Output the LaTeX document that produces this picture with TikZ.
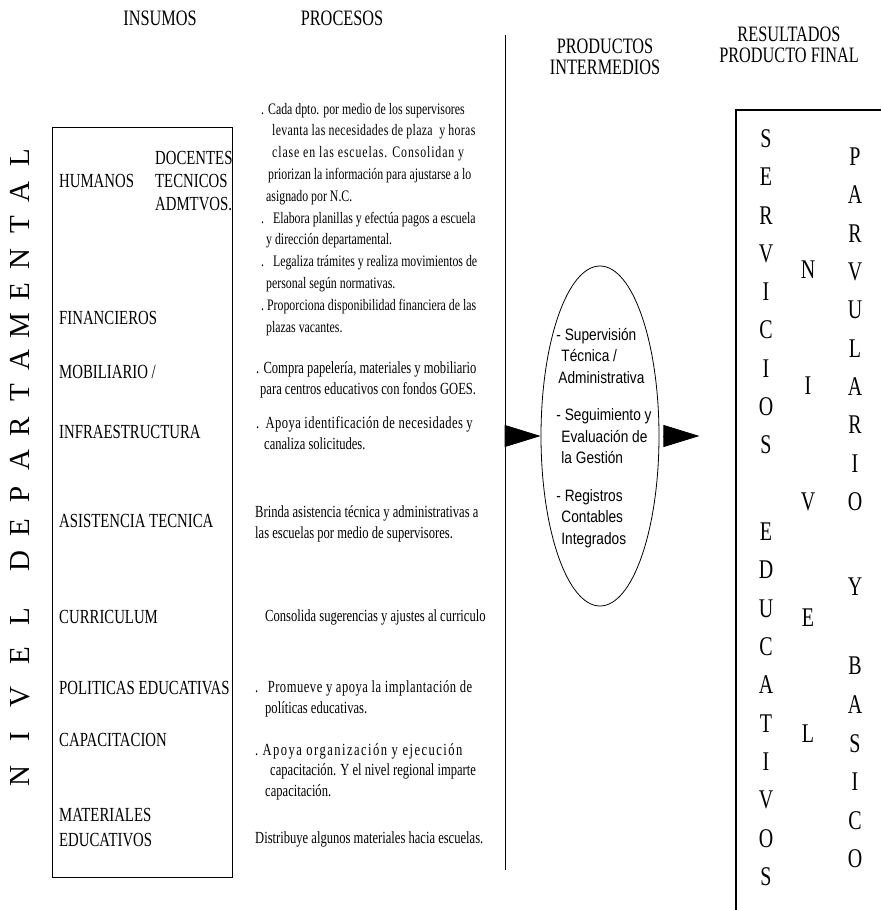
\documentclass[tikz,border=0pt]{standalone}
\usepackage{fontspec}
\usetikzlibrary{arrows.meta,shapes.geometric}
\newfontfamily\narrowserif[FakeStretch=0.74]{Liberation Serif}
\newfontfamily\plainserif{Liberation Serif}
\newfontfamily\narrowsans[FakeStretch=0.83]{Liberation Sans}
\newcommand{\spreadline}[2]{{\addfontfeature{LetterSpace=#1}#2}}

\tikzset{
  colhead/.style={font=\narrowserif\fontsize{22}{21}\selectfont, align=center, inner sep=0pt},
  inlabel/.style={font=\narrowserif\fontsize{20}{23}\selectfont, anchor=base west, inner sep=0pt},
  proctext/.style={font=\narrowserif\fontsize{17}{20.5}\selectfont, anchor=base west, align=left, inner sep=0pt},
  sideletter/.style={font=\plainserif\fontsize{29}{29}\selectfont, rotate=90, inner sep=0pt},
  resletter/.style={font=\narrowserif\fontsize{27}{27}\selectfont, inner sep=0pt},
  prodtext/.style={font=\narrowsans\fontsize{16.5}{21.5}\selectfont, align=left, inner sep=0pt},
  frame/.style={draw=black, line width=1.1pt},
  flowtip/.style={-{Triangle[length=36pt,width=22pt]}, line width=0.8pt},
}

\begin{document}
\begin{tikzpicture}[x=1pt,y=-1pt]
\useasboundingbox (0,0) rectangle (881,910);

% column headings
\node[colhead] (hins)  at (160,18) {INSUMOS};
\node[colhead] (hproc) at (342,18) {PROCESOS};
\node[colhead] (hprod) at (605,57) {PRODUCTOS\\INTERMEDIOS};
\node[colhead] (hres)  at (789,45) {RESULTADOS\\PRODUCTO FINAL};

% side title, read from bottom to top
\foreach \ch/\yy [count=\i] in {N/776,I/737,V/697,E/656,L/617,D/561,E/528,P/494,A/460,R/427,T/393,A/360,M/326,E/292,N/259,T/225,A/192,L/158}
  \node[sideletter] (side\i) at (20,\yy) {\ch};

% inputs box
\node[frame, minimum width=180pt, minimum height=750pt, anchor=north west, inner sep=0pt] (inbox) at (52,127) {};
\node[inlabel] (lhum) at (59,187) {HUMANOS};
\node[inlabel] (ldoc) at (155,164) {DOCENTES};
\node[inlabel] (ltec) at (155,187) {TECNICOS};
\node[inlabel] (ladm) at (155,210) {ADMTVOS.};
\node[inlabel] (lfin) at (59,324) {FINANCIEROS};
\node[inlabel] (lmob) at (59,378) {MOBILIARIO /};
\node[inlabel] (linf) at (59,438) {INFRAESTRUCTURA};
\node[inlabel] (lasi) at (59,527) {ASISTENCIA TECNICA};
\node[inlabel] (lcur) at (59,623) {CURRICULUM};
\node[inlabel] (lpol) at (59,694) {POLITICAS EDUCATIVAS};
\node[inlabel] (lcap) at (59,746) {CAPACITACION};
\node[inlabel] (lmat) at (59,821) {MATERIALES};
\node[inlabel] (ledu) at (59,846) {EDUCATIVOS};

% processes (each node is anchored on the baseline of its last line)
\node[proctext, font=\narrowserif\fontsize{16}{21.8}\selectfont] (phum) at (261,332) {%
. Cada dpto. por medio de los supervisores\\
\hspace*{11pt}\spreadline{2}{levanta las necesidades de plaza\ \ y horas}\\
\hspace*{11pt}\spreadline{5.5}{clase en las escuelas. Consolidan y}\\
\hspace*{7pt}priorizan la información para ajustarse a lo\\
\hspace*{5pt}asignado por N.C.\\
.\ \ \ Elabora planillas y efectúa pagos a escuela\\
\hspace*{5pt}y dirección departamental.\\
.\ \ \ Legaliza trámites y realiza movimientos de\\
\hspace*{5pt}personal según normativas.\\
.\ Proporciona disponibilidad financiera de las\\
\hspace*{5pt}plazas vacantes.};
\node[proctext] (pmob) at (256,394) {%
. Compra papelería, materiales y mobiliario\\
\hspace*{4pt}para centros educativos con fondos GOES.};
\node[proctext] (pinf) at (256,449) {%
.\ \ \spreadline{2.5}{Apoya identificación de necesidades y}\\
\hspace*{8pt}canaliza solicitudes.};
\node[proctext] (pasi) at (255,538) {%
Brinda asistencia técnica y administrativas a\\
las escuelas por medio de supervisores.};
\node[proctext] (pcur) at (265,621) {Consolida sugerencias y ajustes al curriculo};
\node[proctext] (ppol) at (255,713) {%
.\ \ \ \spreadline{3}{Promueve y apoya la implantación de}\\
\hspace*{10pt}políticas educativas.};
\node[proctext] (pcap) at (255,796) {%
. \spreadline{8.5}{Apoya organización y ejecución}\\
\hspace*{15pt}capacitación. Y el nivel regional imparte\\
\hspace*{10pt}capacitación.};
\node[proctext] (pmat) at (255,843) {Distribuye algunos materiales hacia escuelas.};

% separator after the processes
\coordinate (vtop) at (505,35);
\coordinate (vbot) at (505,870);
\draw[line width=0.8pt] (vtop) -- (vbot);

% intermediate products
\node[draw, ellipse, line width=0.8pt, minimum width=118pt, minimum height=340pt, inner sep=0pt] (ell) at (600,436) {};
\node[prodtext] (elltext) at (604,438) {%
- Supervisión\\
\hspace*{5pt}Técnica /\\
\hspace*{2pt}Administrativa\\[16pt]
- Seguimiento y\\
\hspace*{5pt}Evaluación de\\
\hspace*{5pt}la Gestión\\[16pt]
- Registros\\
\hspace*{5pt}Contables\\
\hspace*{5pt}Integrados};

\coordinate (linein) at (505,436);
\draw[flowtip] (linein) -- (ell.west);
\coordinate (outstart) at ([xshift=4pt]ell.east);
\coordinate (outend) at ([xshift=40pt]ell.east);
\draw[flowtip] (outstart) -- (outend);

% final results box, open towards the page edges
\coordinate (rtopr) at (881,110);
\coordinate (rtopl) at (736,110);
\coordinate (rbotl) at (736,910);
\draw[frame] (rtopr) -- (rtopl) -- (rbotl);

\foreach \ch/\yy [count=\i] in {S/139,E/177,R/216,V/254,I/292,C/330,I/369,O/407,S/445,E/532,D/570,U/609,C/647,A/685,T/724,I/762,V/800,O/839,S/877}
  \node[resletter] (ra\i) at (766,\yy) {\ch};
\foreach \ch/\yy [count=\i] in {N/270,I/386,V/502,E/618,L/734}
  \node[resletter] (rb\i) at (808,\yy) {\ch};
\foreach \ch/\yy [count=\i] in {P/157,A/195,R/234,V/272,U/310,L/349,A/387,R/425,I/464,O/502,Y/587,B/666,A/705,S/744,I/782,C/821,O/859}
  \node[resletter] (rc\i) at (855,\yy) {\ch};
\end{tikzpicture}
\end{document}
